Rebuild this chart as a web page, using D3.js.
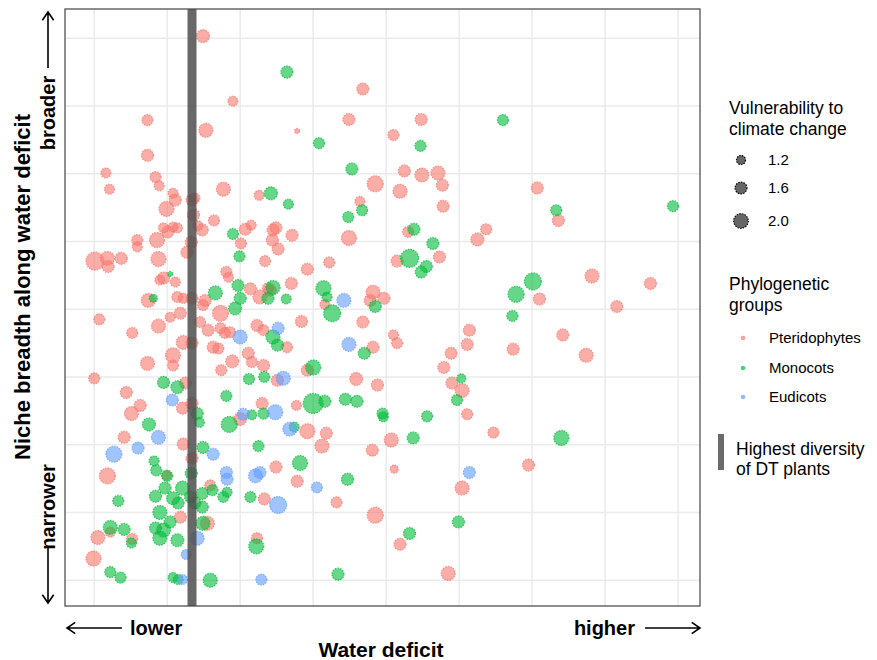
<!DOCTYPE html>
<html>
<head>
<meta charset="utf-8">
<script src="https://cdn.jsdelivr.net/npm/d3@7/dist/d3.min.js"></script>
<style>
  body { margin: 0; background: #fff; }
</style>
</head>
<body>
<div id="chart"></div>
<script>
// [water deficit, niche breadth, vulnerability]
const pteridophytes = [
  [1.49,8.03,1.77],[1.90,7.07,1.34],[0.73,6.79,1.49],[1.53,6.64,1.91],[0.73,6.27,1.63],
  [0.16,6.01,1.34],[0.21,5.77,1.34],[0.84,5.95,1.49],[0.89,5.82,1.34],[1.08,5.71,1.34],
  [1.11,5.61,1.63],[1.77,5.77,1.91],[2.26,5.68,1.34],[1.38,5.64,1.34],[2.78,6.63,0.63],
  [3.68,7.25,1.63],[3.49,6.80,1.63],[4.48,6.80,1.63],[4.10,6.57,1.49],[4.25,6.04,1.63],
  [4.49,5.98,1.91],[4.71,6.01,1.91],[4.77,5.83,1.63],[3.85,5.85,2.20],[4.19,5.74,1.91],
  [3.64,5.59,1.34],[6.07,5.79,1.63],[6.36,5.31,1.63],[5.37,5.18,1.49],[5.25,5.03,1.77],
  [6.82,4.49,1.91],[7.62,4.38,1.63],[6.10,4.15,1.63],[7.16,4.04,1.63],[6.42,3.62,1.63],
  [5.74,3.41,1.63],[6.74,3.32,1.91],[5.47,2.18,1.49],[5.95,1.70,1.63],[4.78,5.52,1.63],
  [2.49,5.20,1.63],[2.71,5.09,1.63],[3.49,5.05,2.06],[4.30,5.14,1.49],[2.52,4.89,1.63],
  [3.22,4.69,1.49],[2.92,4.59,1.63],[4.15,4.71,1.63],[4.73,4.77,1.63],[2.70,4.38,1.63],
  [2.41,4.28,1.63],[3.16,4.07,1.34],[3.82,4.25,1.91],[3.97,4.16,1.63],[3.78,4.13,1.63],
  [3.68,3.81,1.63],[2.84,3.82,1.63],[2.64,3.44,1.49],[3.82,3.44,1.63],[4.10,3.62,1.34],
  [4.15,3.50,1.49],[5.14,3.69,1.63],[5.11,3.48,1.63],[4.89,3.35,1.63],[4.79,3.14,1.63],
  [4.90,2.91,1.63],[5.04,2.80,1.91],[2.92,3.10,1.63],[2.51,2.95,1.63],[3.59,2.97,1.77],
  [3.88,2.88,1.63],[2.77,2.58,1.34],[5.11,2.45,1.49],[2.92,2.20,2.06],[3.18,2.17,1.63],
  [3.12,1.98,1.91],[3.81,1.92,1.63],[4.07,2.07,1.91],[2.49,1.67,1.63],[2.78,1.46,1.63],
  [4.11,1.64,1.06],[5.04,1.36,1.91],[3.32,1.15,1.49],[3.85,0.96,2.20],[4.19,0.53,1.63],
  [4.85,0.10,1.91],[0.44,2.77,1.63],[1.21,2.54,1.63],[0.51,2.46,1.91],[0.63,2.58,1.63],
  [2.00,2.38,1.77],[2.30,2.61,1.63],[0.41,2.11,1.63],[1.22,2.01,1.63],[0.18,1.54,2.20],
  [0.99,1.55,1.34],[1.59,1.40,1.49],[1.18,0.93,1.63],[1.55,0.84,1.91],[0.22,0.71,1.34],
  [0.05,0.63,1.91],[0.52,0.61,1.49],[-0.01,0.32,2.06],[2.23,0.62,1.49],[2.33,1.20,1.63],
  [1.34,1.80,1.63],[1.34,2.61,1.63],[0.99,5.48,2.06],[1.01,5.14,1.63],[1.08,5.21,1.34],
  [1.14,5.20,1.34],[0.95,5.20,1.34],[1.34,5.61,1.63],[1.36,5.39,1.63],[1.33,4.99,1.63],
  [0.59,5.02,1.49],[0.59,4.92,1.34],[0.86,5.02,2.06],[0.37,4.75,1.63],[0.01,4.71,2.49],
  [0.18,4.75,1.91],[0.19,4.63,1.63],[0.88,4.74,2.06],[1.27,4.84,1.63],[1.48,5.17,1.63],
  [1.42,5.23,1.34],[1.64,5.31,1.49],[2.07,5.18,1.63],[2.15,5.24,1.34],[2.01,4.97,1.49],
  [2.34,4.71,1.49],[2.45,5.17,1.63],[2.44,5.02,1.63],[1.81,4.55,1.49],[1.84,4.47,1.34],
  [0.95,4.46,1.63],[0.90,4.43,1.34],[1.11,4.40,1.34],[0.74,4.13,1.91],[1.14,4.18,1.49],
  [1.22,4.16,1.34],[2.14,4.30,1.63],[2.27,4.18,1.91],[2.38,4.31,1.49],[1.52,4.13,1.63],
  [1.49,4.06,1.49],[1.73,3.94,2.20],[1.18,3.94,1.63],[1.04,3.88,1.34],[1.34,4.16,1.63],
  [0.07,3.85,1.49],[0.52,3.65,1.49],[0.88,3.75,1.91],[1.45,3.81,1.49],[1.56,3.69,1.63],
  [1.22,3.51,1.91],[1.34,3.50,1.63],[1.73,3.72,1.49],[1.79,3.65,1.49],[1.86,3.66,1.49],
  [2.23,3.76,1.63],[2.32,3.69,1.49],[1.63,3.44,1.63],[1.70,3.42,1.49],[2.11,3.35,1.63],
  [2.16,3.22,1.49],[2.32,3.17,1.63],[1.08,3.32,2.06],[1.08,3.17,1.49],[1.89,3.23,1.77],
  [0.73,3.20,1.91],[1.74,3.10,1.49],[0.00,2.98,1.49],[1.25,2.91,1.63]
];

const monocots = [
  [2.64,7.50,1.63],[3.08,6.45,1.49],[4.47,6.41,1.49],[3.53,6.07,1.63],[2.42,5.71,1.77],
  [5.60,6.79,1.49],[6.33,5.46,1.49],[7.93,5.52,1.49],[6.01,4.41,2.34],[5.78,4.22,2.20],
  [5.73,3.90,1.49],[6.40,2.10,2.06],[2.66,5.55,1.34],[3.48,5.36,1.49],[3.67,5.46,1.49],
  [4.38,5.18,1.63],[4.64,4.97,1.63],[4.32,4.75,2.49],[4.55,4.63,1.63],[4.48,4.55,1.63],
  [2.45,4.32,1.91],[3.14,4.31,2.06],[3.19,4.18,1.34],[2.63,4.15,1.34],[3.85,4.04,1.63],
  [3.26,3.94,2.34],[2.45,3.59,1.91],[2.51,3.47,1.63],[3.70,3.35,1.63],[5.03,2.98,1.20],
  [3.00,3.14,2.06],[3.00,2.61,2.77],[3.16,2.64,1.63],[3.44,2.67,1.63],[3.60,2.64,1.63],
  [3.95,2.46,1.49],[3.96,2.41,1.34],[4.56,2.42,1.49],[4.97,2.66,1.49],[2.74,2.26,1.34],
  [4.37,2.10,1.63],[2.82,1.73,2.06],[3.47,1.49,1.63],[4.99,0.86,1.63],[4.32,0.69,1.63],
  [3.34,0.09,1.63],[0.75,2.30,1.77],[1.41,2.46,1.63],[1.44,2.33,1.34],[1.81,2.72,1.49],
  [1.85,2.30,2.20],[2.16,2.44,1.34],[2.32,2.46,1.49],[1.49,1.96,1.63],[2.25,1.98,1.49],
  [0.82,1.76,1.34],[0.85,1.62,1.49],[1.00,1.54,1.49],[1.33,1.58,1.63],[0.33,1.17,1.49],
  [0.84,1.24,1.63],[0.90,1.00,1.91],[0.97,1.36,1.63],[1.08,1.21,1.77],[1.21,1.36,1.91],
  [1.15,1.14,1.63],[0.95,0.74,1.91],[0.90,0.62,1.91],[1.14,0.59,1.77],[0.84,0.77,1.63],
  [1.04,0.86,1.63],[1.48,1.28,1.63],[1.62,1.33,1.49],[1.77,1.23,1.49],[1.82,1.30,1.34],
  [1.38,1.14,1.63],[1.48,1.08,1.63],[1.32,1.23,1.63],[1.49,0.84,1.91],[0.22,0.78,1.91],
  [0.41,0.75,1.63],[0.51,0.55,1.34],[2.22,0.50,2.06],[2.14,1.23,1.49],[0.22,0.12,1.49],
  [0.36,0.04,1.49],[1.08,0.04,1.34],[1.15,0.01,1.34],[1.59,0.00,1.91],[1.90,5.11,1.49],
  [1.99,4.78,1.49],[1.04,4.52,0.63],[0.81,4.16,1.06],[1.66,4.24,1.91],[1.97,4.35,1.63],
  [2.00,4.16,1.63],[1.93,4.01,1.77],[2.38,4.16,1.63],[0.95,2.92,1.63],[1.14,2.85,1.77],
  [2.12,2.97,1.49],[2.33,3.00,1.49]
];

const eudicots = [
  [3.42,4.13,1.91],[3.49,3.48,1.91],[2.59,2.98,1.91],[2.48,2.48,2.06],[2.68,2.23,1.91],
  [3.05,1.37,1.49],[2.52,1.11,2.34],[5.14,1.59,1.63],[2.00,3.59,1.91],[2.52,3.72,1.63],
  [1.07,2.66,1.63],[2.04,2.45,1.63],[0.88,2.11,1.91],[0.60,1.95,1.63],[1.63,1.86,1.63],
  [0.27,1.86,2.20],[1.81,1.59,1.63],[1.82,1.49,1.63],[2.21,1.54,1.91],[2.27,1.59,1.63],
  [1.41,0.62,1.91],[1.26,0.38,1.34],[1.21,0.01,1.34],[2.29,0.01,1.49]
];

const groupNames = ["Pteridophytes", "Monocots", "Eudicots"];
const groupColors = ["#F8766D", "#00BA38", "#619CFF"];
const sizeBreaks = [1.2, 1.6, 2.0];
const dtBand = 1.34; // highest diversity of DT plants
const xGrid = d3.range(0, 9);
const yGrid = d3.range(0, 9);

const W = 877, H = 660;
const panel = {left: 65, top: 9, right: 700, bottom: 606};

const svg = d3.select("#chart").append("svg")
  .attr("width", W).attr("height", H)
  .style("font-family", "'Liberation Sans', Arial, sans-serif");

const x = d3.scaleLinear().domain([-0.4, 8.3]).range([panel.left, panel.right]);
const y = d3.scaleLinear().domain([-0.38, 8.43]).range([panel.bottom, panel.top]);
const r = d3.scaleLinear().domain([1.2, 2.0]).range([4.5, 7.3]);
const color = d3.scaleOrdinal().domain(groupNames).range(groupColors);

// grid
const g = svg.append("g");
g.selectAll(".vx").data(xGrid).enter().append("line")
  .attr("x1", d => x(d)).attr("x2", d => x(d))
  .attr("y1", panel.top).attr("y2", panel.bottom)
  .attr("stroke", "#ebebeb").attr("stroke-width", 1.5);
g.selectAll(".hy").data(yGrid).enter().append("line")
  .attr("y1", d => y(d)).attr("y2", d => y(d))
  .attr("x1", panel.left).attr("x2", panel.right)
  .attr("stroke", "#ebebeb").attr("stroke-width", 1.5);

// points
const all = [];
[pteridophytes, monocots, eudicots].forEach((arr, i) => {
  arr.forEach(d => all.push({x: d[0], y: d[1], v: d[2], grp: groupNames[i]}));
});

g.selectAll("circle.pt").data(all).enter().append("circle")
  .attr("class", "pt")
  .attr("cx", d => x(d.x))
  .attr("cy", d => y(d.y))
  .attr("r", d => r(d.v))
  .attr("fill", d => color(d.grp))
  .attr("fill-opacity", 0.6)
  .attr("stroke", d => color(d.grp))
  .attr("stroke-opacity", 0.75)
  .attr("stroke-width", 1.2)
  .attr("stroke-dasharray", "1.5,1.2");

// DT band
g.append("rect")
  .attr("x", x(dtBand) - 4.5).attr("width", 9)
  .attr("y", panel.top).attr("height", panel.bottom - panel.top)
  .attr("fill", "#4d4d4d").attr("fill-opacity", 0.85);

// panel border
g.append("rect")
  .attr("x", panel.left).attr("y", panel.top)
  .attr("width", panel.right - panel.left).attr("height", panel.bottom - panel.top)
  .attr("fill", "none").attr("stroke", "#444").attr("stroke-width", 1.2);

// arrows
function arrow(x1, y1, x2, y2) {
  const a = Math.atan2(y2 - y1, x2 - x1), L = 10, s = 0.6;
  svg.append("path")
    .attr("d", `M${x1},${y1}L${x2},${y2}` +
      `M${x2 - L * Math.cos(a - s)},${y2 - L * Math.sin(a - s)}L${x2},${y2}` +
      `L${x2 - L * Math.cos(a + s)},${y2 - L * Math.sin(a + s)}`)
    .attr("fill", "none").attr("stroke", "#000").attr("stroke-width", 1.6);
}
arrow(122, 628, 67, 628);
arrow(645, 628, 700, 628);
arrow(48, 68, 48, 12);
arrow(48, 548, 48, 603);

const bold = "'Liberation Sans Narrow', 'Arial Narrow', 'Liberation Sans', sans-serif";
svg.append("text").attr("x", 130).attr("y", 635).text("lower")
  .attr("font-family", bold).attr("font-weight", "bold").attr("font-size", 20);
svg.append("text").attr("x", 635).attr("y", 635).attr("text-anchor", "end").text("higher")
  .attr("font-family", bold).attr("font-weight", "bold").attr("font-size", 20);
svg.append("text").attr("x", 381).attr("y", 657).attr("text-anchor", "middle").text("Water deficit")
  .attr("font-family", bold).attr("font-weight", "bold").attr("font-size", 21);

svg.append("text").attr("transform", "translate(55,113) rotate(-90)")
  .attr("text-anchor", "middle").text("broader")
  .attr("font-family", bold).attr("font-weight", "bold").attr("font-size", 20);
svg.append("text").attr("transform", "translate(55,507) rotate(-90)")
  .attr("text-anchor", "middle").text("narrower")
  .attr("font-family", bold).attr("font-weight", "bold").attr("font-size", 20);
svg.append("text").attr("transform", "translate(30,287) rotate(-90)")
  .attr("text-anchor", "middle").text("Niche breadth along water deficit")
  .attr("font-family", bold).attr("font-weight", "bold").attr("font-size", 22);

// legends
const lg = svg.append("g").attr("font-size", 17.5);
lg.append("text").attr("x", 729).attr("y", 114).text("Vulnerability to");
lg.append("text").attr("x", 729).attr("y", 135).text("climate change");
const sizeY = [160, 188, 221];
sizeBreaks.forEach((v, i) => {
  lg.append("circle").attr("cx", 741).attr("cy", sizeY[i]).attr("r", r(v))
    .attr("fill", "#333").attr("fill-opacity", 0.75)
    .attr("stroke", "#000").attr("stroke-width", 1.2).attr("stroke-dasharray", "1.5,1.2");
  lg.append("text").attr("x", 768).attr("y", sizeY[i] + 5).attr("font-size", 15).text(v.toFixed(1));
});

lg.append("text").attr("x", 729).attr("y", 290).text("Phylogenetic");
lg.append("text").attr("x", 729).attr("y", 311).text("groups");
const grpY = [338, 368, 397];
groupNames.forEach((n, i) => {
  lg.append("circle").attr("cx", 743).attr("cy", grpY[i]).attr("r", 2.3)
    .attr("fill", groupColors[i]).attr("fill-opacity", 0.7);
  lg.append("text").attr("x", 769).attr("y", grpY[i] + 5).attr("font-size", 15).text(n);
});

lg.append("rect").attr("x", 718).attr("y", 434).attr("width", 6).attr("height", 36)
  .attr("fill", "#6a6a6a");
lg.append("text").attr("x", 736).attr("y", 455).text("Highest diversity");
lg.append("text").attr("x", 736).attr("y", 475).text("of DT plants");
</script>
</body>
</html>
